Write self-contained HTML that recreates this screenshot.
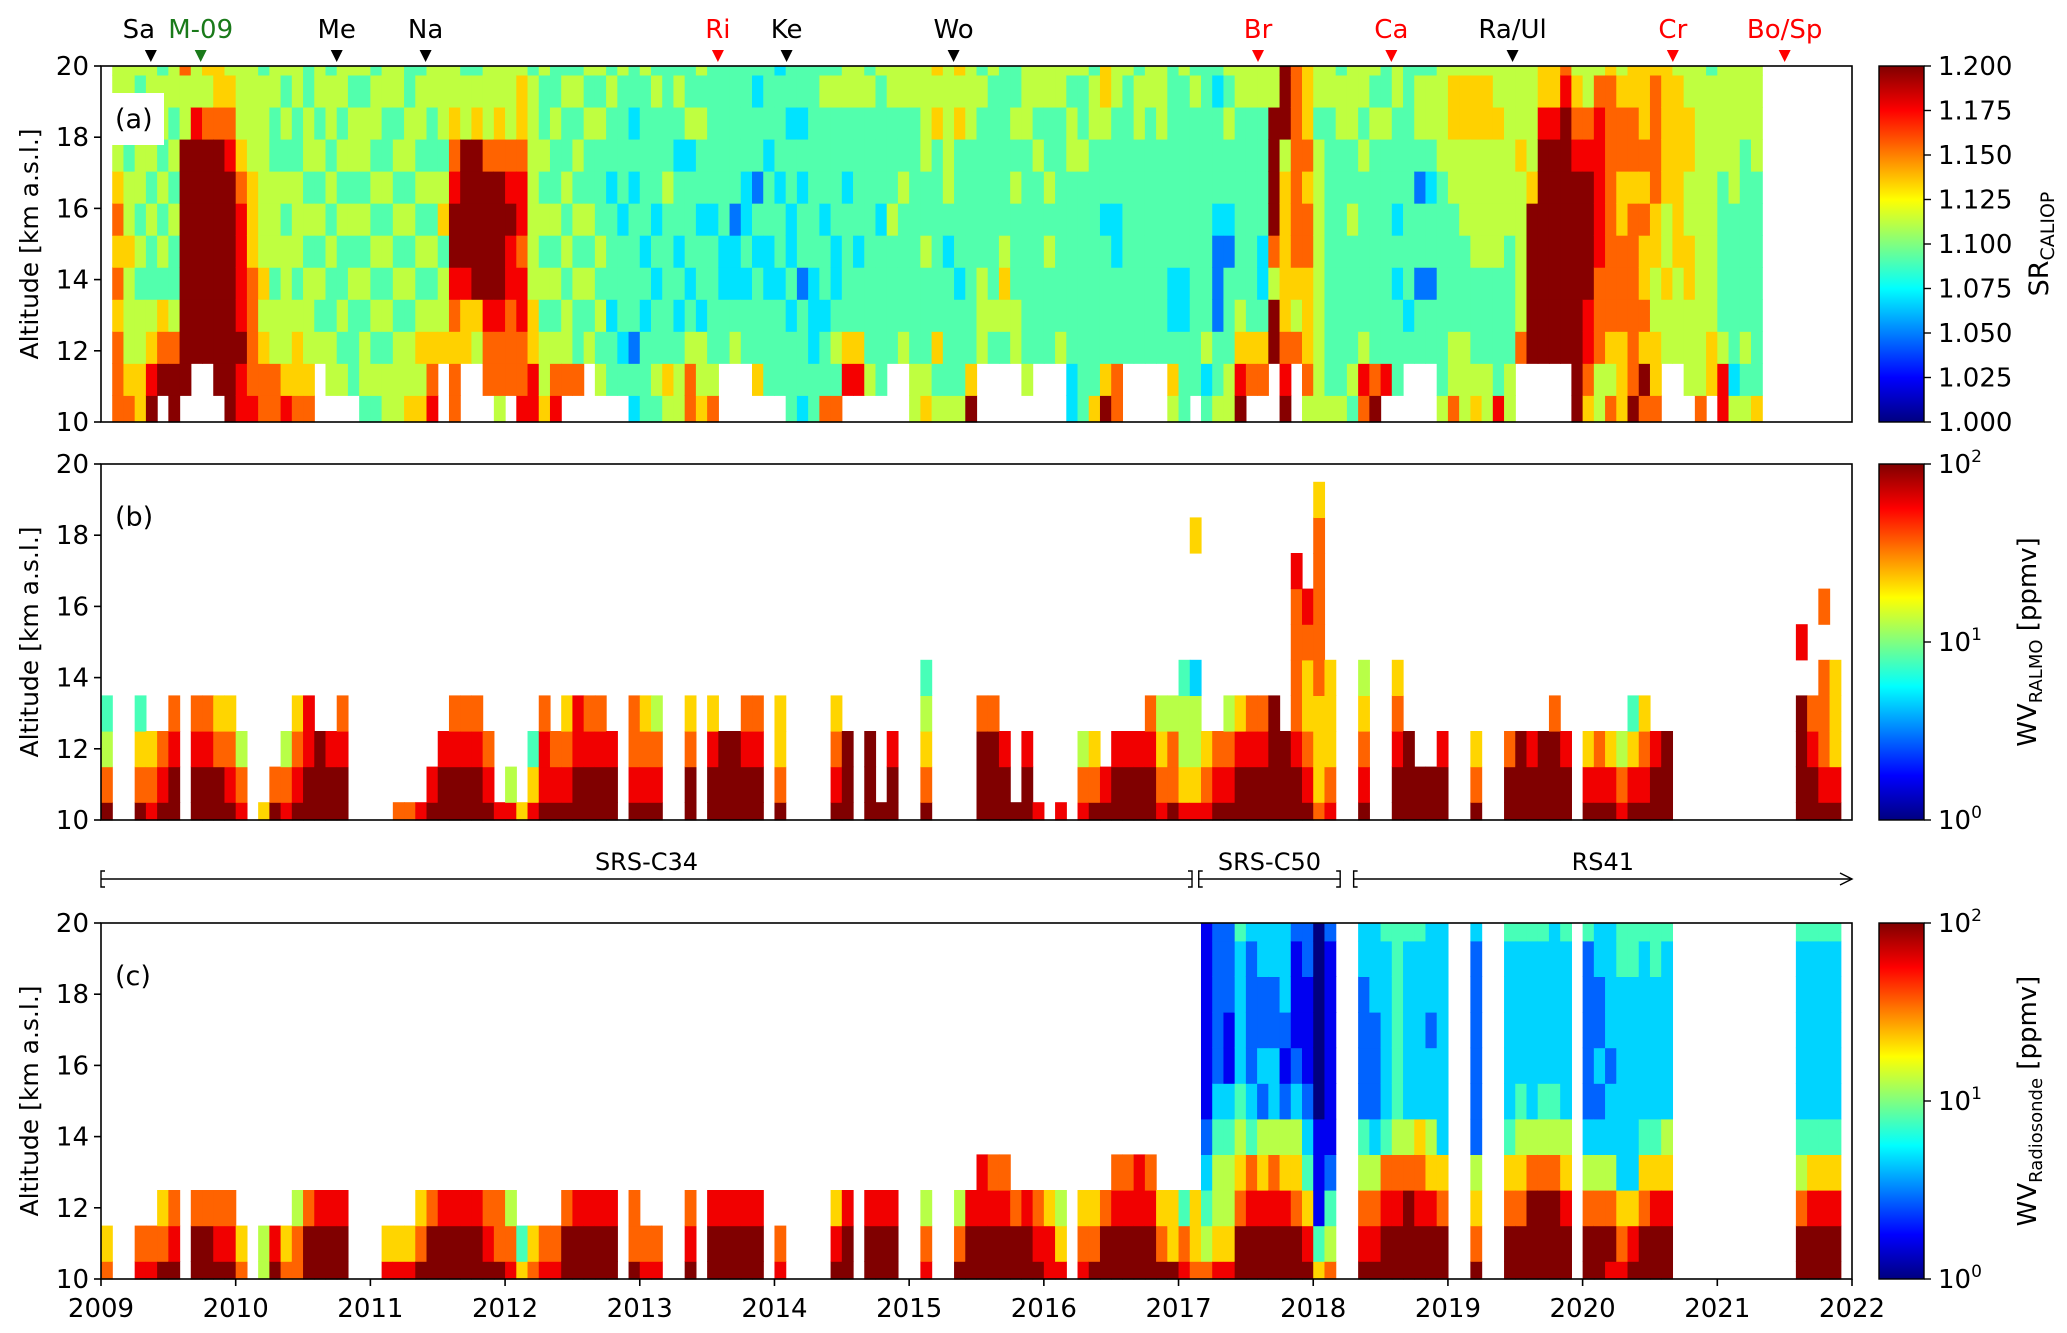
<!DOCTYPE html>
<html>
<head>
<meta charset="utf-8">
<style>
html,body{margin:0;padding:0;background:#fff;}
svg{display:block;font-family:"DejaVu Sans","Liberation Sans",sans-serif;}
</style>
</head>
<body>
<svg id="fig" width="2067" height="1333" viewBox="0 0 2067 1333" xmlns="http://www.w3.org/2000/svg">
  <defs>
    <linearGradient id="jetGrad" x1="0" y1="1" x2="0" y2="0"></linearGradient>
  </defs>
  <g id="cells"></g>
  <g id="axes"></g>
</svg>
<script>
// ---------- DATA ----------
const yearTicks = [2009,2010,2011,2012,2013,2014,2015,2016,2017,2018,2019,2020,2021,2022];
const altTicks = [10,12,14,16,18,20];
const srTicks = [1.000,1.025,1.050,1.075,1.100,1.125,1.150,1.175,1.200];
const wvTicksExp = [0,1,2];
const eventNames = ["Sa","M-09","Me","Na","Ri","Ke","Wo","Br","Ca","Ra/Ul","Cr","Bo/Sp"];
const eventDates = [2009.37,2009.74,2010.75,2011.41,2013.58,2014.09,2015.33,2017.59,2018.58,2019.48,2020.67,2021.5];
const eventColors = ["#000","#1a7a1a","#000","#000","#f00","#000","#000","#f00","#f00","#000","#f00","#f00"];
const periodNames = ["SRS-C34","SRS-C50","RS41"];
const periodStart = [2009.0,2017.15,2018.3];
const periodEnd = [2017.1,2018.2,2022.0];
const srAltEdges = [10,10.75,11.65,12.55,13.45,14.35,15.25,16.15,17.05,17.95,18.85,19.75,20];
const srColumns = [
"............","777676765555","765556554455","665545455445","986544545455",".97645454554","997544545455",".99999999557","..9999999855","..9999999756",".99999999766","999999998765",
"889888876555","877776665555","776565555554","775545554455","865555454545","766545554455","765554545544","..5454545455",".55445454554",".54544545455",".44454545545","455454545545",
"454545454554","554545454455","555454545455","655454545544","656545454554","876545454455","..6554654555","776789987655","..6689999554","..5699999654",".77899997555","577899997655",
".77788987555","877887887665","886655555554","655454545445","875454544544",".75545454454",".74454545454","..5454544545",".54545444545",".44344434454",".43444344445","342444434344",
"444343444445","454434344454","564444454444","554343443454","775434443544","655344344545","754444344444","..4433444444","..5433244444","..4434334444",".64443424434",".44433443444",
".44434434443","444343344344","344424434344","443334444444","744344344454","745433444454",".86444434455",".86443444455",".54444444454",".44444344445","..4444544455","..5444454455",
"554444444455","654445445555","546444444656","544443455555","544434444656","964444444555","..5554444454","..4544444445","..4565444444","..5544454544",".54444444555","..4444445455",
"..4445454455","..5444444455","334444445545","444444445445","644444444554","964444344566","774443344455","..4444444445","..4444444554","..4444444455","..4444444555","564334444444",
"444334444445",".44444444454","435444444444","544222344434","554442344545","986544444455",".76444444455",".76433444455","..9957999955","987666665999","..7567777777","576667767666",
"555555555455","544444444455","544444444554","454444544555","785444445455","974444444545",".84444444544",".44434344455","..4344444444","..4424424554","..4424434554","544444445555",
"755444455665","555444555665","654445555665","554445555665","844445555655","554444555555","..7555556555","..9999965555","..9999999866","..9999999866","..9999999987","999999998765",
"678899998755","557778888875","756777777776","666777667765","977777767766","796766767666","766556677776","..5565566666","..5556666665",".55566556655","755555555555",".66555555554",
"885444445555","534444455555","545444444555","644444445555"
];
const wvAltEdges = [10,10.5,11.5,12.5,13.5,14.5,15.5,16.5,17.5,18.5,19.5,20];
const ralmoMonths = [0,3,4,5,6,8,9,10,11,12,14,15,16,17,18,19,20,21,26,27,28,29,30,31,32,33,34,35,36,37,38,39,40,41,42,43,44,45,47,48,49,52,54,55,56,57,58,60,65,66,68,69,70,73,
78,79,80,81,82,83,85,87,88,89,90,91,92,93,94,95,96,97,98,99,100,101,102,103,104,105,106,107,108,109,112,115,116,117,118,119,122,125,126,127,128,129,130,132,133,134,135,136,137,138,139,151,152,153,154];
const ralmoCols = ["9754","9764","876","987","9987","9987","9987","9976","9876","875","6","97","875","9876","9988","999","998","9987","7","7","8","98","998","9987","9987","9987","987","8","85","6","864","9887","987","9876","9988","9987","9987","998","9877","9876","9875","9976","9986","999","999","9987","9987","9766","9876","999","999","9","998","97654",
"9997","9997","998","9","998","8","8","875","976","98","998","998","998","9987","8765","9775","86554","86553...6","876","987","9875","9986","9987","9987","9999","999","99877778","9876678","7666777776","87666","98765","99876","999","99","99","998","976","997","999","998","999","9997","998","986","987","986","875","9864","9876","998","999","9999.8","9987","98777.7","98666"];
const sondeMonths = [0,3,4,5,6,8,9,10,11,12,14,15,16,17,18,19,20,21,25,26,27,28,29,30,31,32,33,34,35,36,37,38,39,40,41,42,43,44,45,47,48,49,52,54,55,56,57,58,60,65,66,68,69,70,73,76,77,78,79,80,81,82,83,84,85,87,88,89,90,91,92,93,94,95,96,97,
98,99,100,101,102,103,104,105,106,107,108,109,112,113,114,115,116,117,118,119,122,125,126,127,128,129,130,132,133,134,135,136,137,138,139,151,152,153,154];
const sondeCols = ["76","87","87","976","987","997","997","987","987","76","55","98","76","775","997","998","998","998","86","86","86","976","997","998","998","998","998","987","977","875","64","76","87","87","997","998","998","998","998","977","87","87","987","998","998","998","998","998","87","986","998","998","998","998","875","975","998","9988","9987","9987","997","998","987","886","865","876","976","997","9987","9987","9988","9987","976","966","874","766",
"75432111111","86554322222","86554311222","99765433334","99874322223","99865232233","99875332233","99865212333","99765321112","98643211122","64111000000","75421111112","98754222233","98753222333","99874333334","99875444444","99975333334","99876333334","99865332333","99763333333","97652222223","99764333334","99765433334","99975333334","99975433334","99975433333","99865333334","99753222224","99753232233","89753323333","87633333344","98633333344","99764333334","99864333344","99865333334","99754333334","99864333334","99864333334","99864333334"];

// ---------- GEOMETRY / SCALES ----------
const X0 = 101, X1 = 1852;
const panels = [
  {id:"a", top:66, bottom:422},
  {id:"b", top:464, bottom:820},
  {id:"c", top:923, bottom:1279}
];
const CB0 = 1879, CB1 = 1924;
function xOf(year){ return X0 + (year-2009)/13*(X1-X0); }
function yOf(alt,p){ return p.bottom - (alt-10)/10*(p.bottom-p.top); }
function jet(t){
  t = Math.max(0, Math.min(1, t));
  const f = v => Math.round(255*Math.max(0, Math.min(1, v)));
  return "rgb(" + f(1.5-Math.abs(4*t-3)) + "," + f(1.5-Math.abs(4*t-2)) + "," + f(1.5-Math.abs(4*t-1)) + ")";
}
function srValue(code){ return Math.min(1.2, 1.005 + code*0.0215); }
function srColor(v){ return jet((v-1)/0.2); }
function wvValue(code){ return Math.pow(10, 2*code/9); }
function wvColor(v){ return jet(Math.log10(v)/2); }

const NS = "http://www.w3.org/2000/svg";
const cellsG = document.getElementById("cells");
const axesG = document.getElementById("axes");
function mk(tag, attrs, parent){
  const e = document.createElementNS(NS, tag);
  for (const k in attrs) e.setAttribute(k, attrs[k]);
  (parent||axesG).appendChild(e);
  return e;
}

const grad = document.getElementById("jetGrad");
for (let i=0;i<=40;i++){
  const s = document.createElementNS(NS,"stop");
  s.setAttribute("offset", (i/40).toFixed(3));
  s.setAttribute("stop-color", jet(i/40));
  grad.appendChild(s);
}

function drawColumn(p, col, str, edges, valFn, colFn, name){
  const xa = xOf(2009 + col/12), xb = xOf(2009 + (col+1)/12);
  for (let r=0; r<str.length && r<edges.length-1; r++){
    const ch = str[r];
    if (ch === ".") continue;
    const v = valFn(parseInt(ch,10));
    const ya = yOf(edges[r+1], p), yb = yOf(edges[r], p);
    const rc = mk("rect", {x:xa.toFixed(2), y:ya.toFixed(2), width:(xb-xa+0.6).toFixed(2), height:(yb-ya+0.6).toFixed(2), fill:colFn(v)}, cellsG);
    
    
  }
}
srColumns.forEach((s,i)=>drawColumn(panels[0], i, s, srAltEdges, srValue, srColor, 'sr-cell'));
ralmoMonths.forEach((m,i)=>drawColumn(panels[1], m, ralmoCols[i], wvAltEdges, wvValue, wvColor, 'ralmo-cell'));
sondeMonths.forEach((m,i)=>drawColumn(panels[2], m, sondeCols[i], wvAltEdges, wvValue, wvColor, 'sonde-cell'));

const FS = 26;
function text(x,y,str,attrs){
  const t = mk("text", Object.assign({x:x, y:y, "font-size":FS, fill:"#000"}, attrs||{}));
  t.textContent = str;
  return t;
}

panels.forEach((p,pi)=>{
  const fr = mk("rect", {x:X0, y:p.top, width:X1-X0, height:p.bottom-p.top, fill:"none", stroke:"#000", "stroke-width":1.6});
  
  
  altTicks.forEach(a=>{
    const y = yOf(a,p);
    const tk = mk("line", {x1:X0-7, x2:X0, y1:y, y2:y, stroke:"#000", "stroke-width":1.6});
    
    
    const tl = text(X0-12, y+9, String(a), {"text-anchor":"end"});
    
    
  });
  const cy = (p.top+p.bottom)/2;
  const yt = text(0, 0, "Altitude [km a.s.l.]", {"text-anchor":"middle", transform:"translate(38," + cy + ") rotate(-90)", "font-size":25});
  
  
  const lab = ["(a)","(b)","(c)"][pi];
  if (pi===0){
    const bg = mk("rect", {x:111, y:93, width:53, height:52, fill:"#fff"});
    
    
  }
  const pl = text(115, p.top + 62, lab, {"font-size":27});
  
  
});

yearTicks.forEach(yr=>{
  const x = xOf(yr), p = panels[2];
  const tk = mk("line", {x1:x, x2:x, y1:p.bottom, y2:p.bottom+7, stroke:"#000", "stroke-width":1.6});
  
  
  const tl = text(x, p.bottom+38, String(yr), {"text-anchor":"middle"});
  
  
});

eventNames.forEach((n,i)=>{
  const x = xOf(eventDates[i]);
  const tri = mk("path", {d:"M"+(x-6)+",50 L"+(x+6)+",50 L"+x+",62 Z", fill:eventColors[i]});
  
  
  const lx = (i===0) ? x-12 : x;
  const tl = text(lx, 38, n, {"text-anchor":"middle", fill:eventColors[i]});
  
  
});

const BY = 879;
periodNames.forEach((n,i)=>{
  const xa = xOf(periodStart[i]), xb = xOf(periodEnd[i]);
  const ln = mk("line", {x1:xa, x2:xb, y1:BY, y2:BY, stroke:"#000", "stroke-width":1.4});
  
  
  const lb = mk("path", {d:"M"+(xa+4)+","+(BY-8)+" L"+xa+","+(BY-8)+" L"+xa+","+(BY+8)+" L"+(xa+4)+","+(BY+8), fill:"none", stroke:"#000", "stroke-width":1.4});
  
  
  if (i < periodNames.length-1){
    const rb = mk("path", {d:"M"+(xb-4)+","+(BY-8)+" L"+xb+","+(BY-8)+" L"+xb+","+(BY+8)+" L"+(xb-4)+","+(BY+8), fill:"none", stroke:"#000", "stroke-width":1.4});
    
    
  } else {
    const ar = mk("path", {d:"M"+(xb-12)+","+(BY-6)+" L"+xb+","+BY+" L"+(xb-12)+","+(BY+6), fill:"none", stroke:"#000", "stroke-width":1.4});
    
    
  }
  const tl = text((xa+xb)/2, BY-9, n, {"text-anchor":"middle", "font-size":24});
  
  
});

panels.forEach((p,pi)=>{
  const cb = mk("rect", {x:CB0, y:p.top, width:CB1-CB0, height:p.bottom-p.top, fill:"url(#jetGrad)", stroke:"#000", "stroke-width":1.4});
  
  
  const cy = (p.top+p.bottom)/2;
  if (pi===0){
    srTicks.forEach(v=>{
      const y = p.bottom - (v-1)/0.2*(p.bottom-p.top);
      const tk = mk("line", {x1:CB1, x2:CB1+7, y1:y, y2:y, stroke:"#000", "stroke-width":1.4});
      
      
      const tl = text(CB1+14, y+9, v.toFixed(3));
      
      
    });
    const t = mk("text", {transform:"translate(2048," + cy + ") rotate(-90)", "text-anchor":"middle", "font-size":27});
    t.innerHTML = 'SR<tspan font-size="19" dy="6">CALIOP</tspan>';
    
    
  } else {
    wvTicksExp.forEach(e=>{
      const y = p.bottom - e/2*(p.bottom-p.top);
      const tk = mk("line", {x1:CB1, x2:CB1+7, y1:y, y2:y, stroke:"#000", "stroke-width":1.4});
      
      
      const tl = mk("text", {x:CB1+14, y:y+9, "font-size":FS});
      tl.innerHTML = '10<tspan font-size="17" dy="-11">' + e + '</tspan>';
      
      
    });
    const sub = pi===1 ? "RALMO" : "Radiosonde";
    const t = mk("text", {transform:"translate(2036," + cy + ") rotate(-90)", "text-anchor":"middle", "font-size":26});
    t.innerHTML = 'WV<tspan font-size="18" dy="6">' + sub + '</tspan><tspan dy="-6"> [ppmv]</tspan>';
    
    
  }
});
</script>
</body>
</html>
